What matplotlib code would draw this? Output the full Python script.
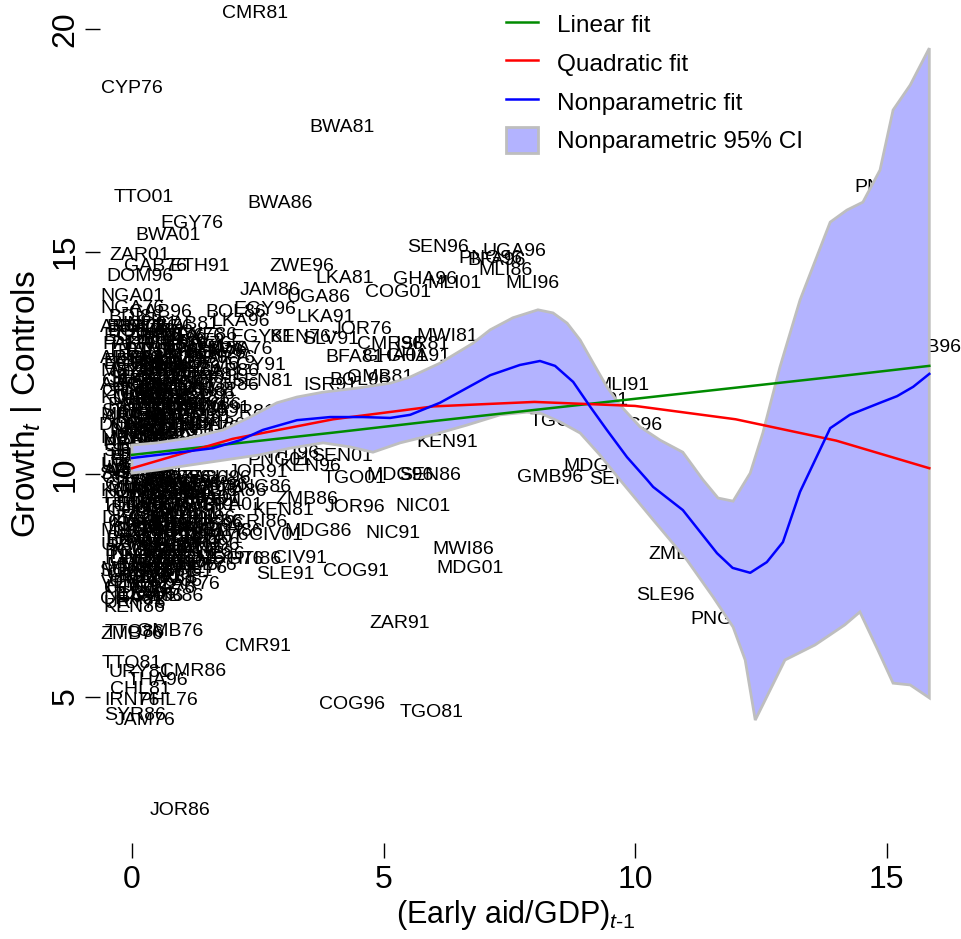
import matplotlib
matplotlib.use('Agg')
import numpy as np
import matplotlib.pyplot as plt
from matplotlib.lines import Line2D
from matplotlib.patches import Patch

plt.rcParams['font.family'] = ['Liberation Sans', 'DejaVu Sans']
plt.rcParams['mathtext.fontset'] = 'custom'
plt.rcParams['mathtext.rm'] = 'Liberation Sans'
plt.rcParams['mathtext.it'] = 'Liberation Sans:italic'

outer_codes = ['CMR81', 'CYP76', 'BWA81', 'TTO01', 'BWA86', 'EGY76', 'BWA01', 'ZAR01', 'GAB76', 'ETH91',
               'DOM96', 'ZWE96', 'SEN96', 'UGA96', 'PNG96', 'BFA96', 'MLI86', 'MLI96', 'GHA96', 'MLI01',
               'COG01', 'LKA81', 'JAM86', 'UGA86', 'NGA01', 'NGA76', 'BDI86', 'GAB96', 'BOL86', 'EGY96',
               'LKA91', 'IND91', 'GAB81', 'LKA96', 'JOR76', 'MWI81', 'ISR81', 'CMR96', 'EGY81', 'KEN76',
               'SLV91', 'ZWE86', 'GHA86', 'BWA76', 'BFA81', 'GHA01', 'GHA91', 'EGY91', 'SEN81', 'ISR91',
               'BOL96', 'GMB81', 'JOR81', 'KEN91', 'SEN01', 'HTI96', 'SEN86', 'TGO01', 'MDG96', 'JOR91',
               'KEN96', 'PNG01', 'JOR96', 'NIC01', 'KEN81', 'ZMB86', 'PNG86', 'CRI86', 'MDG86', 'NIC91',
               'CIV01', 'MWI86', 'MDG01', 'CIV91', 'SLE91', 'COG91', 'HTI86', 'ZAR91', 'GMB76', 'ZMB76',
               'TTO86', 'CMR91', 'TTO81', 'URY81', 'CMR86', 'THA96', 'CHL81', 'IRN76', 'PHL76', 'SYR86',
               'JAM76', 'COG96', 'TGO81', 'JOR86', 'MLI91', 'TGO86', 'GMB91', 'NIC96', 'GMB96', 'MDG91',
               'SEN91', 'ZMB91', 'SLE96', 'PNG91', 'PNG81', 'GNB96', 'MDG76', 'ZAR76', 'VEN96', 'MEX86',
               'URY76']
outer_aid = [2.45, 0.00, 4.17, 0.24, 2.94, 1.19, 0.72, 0.16, 0.46, 1.35,
             0.16, 3.38, 6.08, 7.61, 7.12, 7.25, 7.42, 7.97, 5.83, 6.42,
             5.29, 4.23, 2.74, 3.70, 0.00, 0.00, 0.06, 0.56, 2.07, 2.64,
             3.84, 0.36, 1.11, 2.15, 4.57, 6.26, 5.77, 5.13, 2.58, 3.34,
             3.94, 1.45, 1.65, 2.15, 4.43, 5.23, 5.69, 2.45, 2.58, 3.94,
             4.53, 4.93, 2.25, 6.26, 4.17, 3.20, 5.92, 4.43, 5.33, 2.50,
             3.54, 2.94, 4.43, 5.79, 3.00, 3.48, 2.54, 2.54, 3.70, 5.19,
             2.86, 6.58, 6.72, 3.34, 3.04, 4.45, 2.45, 5.33, 0.76, 0.00,
             0.05, 2.50, 0.00, 0.16, 1.21, 0.52, 0.16, 0.00, 0.72, 0.06,
             0.26, 4.37, 5.96, 0.95, 9.74, 8.55, 9.20, 10.00, 8.31, 9.24,
             9.70, 10.89, 10.60, 11.73, 15.00, 15.85, 1.95, 1.15, 0.00, 0.00,
             0.05]
outer_growth = [20.34, 18.67, 17.78, 16.22, 16.09, 15.64, 15.35, 14.92, 14.67, 14.67,
                14.43, 14.67, 15.10, 14.99, 14.85, 14.80, 14.58, 14.27, 14.36, 14.27,
                14.07, 14.40, 14.13, 13.96, 13.98, 13.73, 13.51, 13.62, 13.64, 13.69,
                13.51, 13.35, 13.35, 13.42, 13.24, 13.10, 12.92, 12.90, 13.06, 13.06,
                13.02, 13.12, 12.79, 12.79, 12.61, 12.63, 12.63, 12.43, 12.07, 12.00,
                12.11, 12.16, 11.39, 10.70, 10.40, 10.45, 9.96, 9.91, 9.96, 10.04,
                10.16, 10.31, 9.24, 9.26, 9.19, 9.42, 9.69, 8.92, 8.70, 8.67,
                8.61, 8.31, 7.87, 8.11, 7.75, 7.80, 8.07, 6.65, 6.47, 6.40,
                6.44, 6.13, 5.75, 5.55, 5.57, 5.35, 5.15, 4.92, 4.92, 4.58,
                4.47, 4.83, 4.65, 2.43, 12.00, 11.19, 11.66, 11.10, 9.93, 10.16,
                9.87, 8.18, 7.26, 6.72, 16.43, 12.85, 8.07, 7.51, 7.55, 7.85,
                7.10]

# the dense, overprinted cluster near zero aid (positions estimated from the ink)
cluster_codes = ['ARG76', 'BRA76', 'CHL76', 'COL76', 'ECU76', 'GTM76', 'HND76', 'MEX76',
                 'PAK76', 'PER76', 'PHL81', 'PRY76', 'SLV76', 'THA76', 'TUN76', 'TUR76', 'URY86', 'VEN76',
                 'ARG81', 'BRA81', 'COL81', 'CRI81', 'DZA76', 'MAR76', 'ECU81', 'GTM81', 'HND81', 'IDN76', 'KOR76',
                 'MEX81', 'MYS76', 'PAK81', 'PER81', 'PRY81', 'GAB86', 'SLV81', 'THA81', 'TUN81', 'TUR81', 'VEN81',
                 'ARG86', 'BRA86', 'CHL86', 'COL86', 'DOM76', 'ECU86', 'GTM86', 'HND86', 'IDN81', 'IND76', 'JAM81',
                 'KOR81', 'MAR81', 'MEX91', 'MYS81', 'NGA81', 'PAK86', 'PER86', 'PHL86', 'PRY86', 'SLV86',
                 'SYR76', 'THA86', 'TUN86', 'TUR86', 'VEN86', 'ARG91', 'BRA91', 'CHL91', 'COL91', 'CRI91',
                 'DOM81', 'DZA81', 'ECU91', 'GTM91', 'HND91', 'IDN86', 'IND81', 'JAM91', 'KOR86', 'MAR86',
                 'MEX96', 'MYS86', 'NGA86', 'PAK91', 'PER91', 'PHL91', 'PRY91', 'SLV96', 'SYR81', 'THA91',
                 'TUN91', 'TUR91', 'URY91', 'VEN91', 'ARG96', 'BRA96',
                 'CHL96', 'COL96', 'CRI96', 'DOM86', 'DZA86', 'ECU96', 'GTM96', 'HND96', 'IDN91', 'IND86', 'JAM96',
                 'KOR91', 'MAR91', 'MYS91', 'NGA91', 'PAK96', 'BFA86', 'PER96', 'PHL96', 'PRY96', 'SYR91', 'THA01',
                 'TUN96', 'TUR96', 'URY96', 'VEN01', 'ARG01', 'BRA01', 'CHL01', 'COL01', 'CRI01', 'DOM91',
                 'DZA91', 'ECU01', 'GTM01', 'HND01', 'IDN96', 'IND96', 'JAM01', 'KOR96', 'MAR96', 'MYS96',
                 'MEX01', 'NGA96', 'PAK01', 'PER01', 'PHL01', 'ETH86', 'PRY01', 'SLV01', 'SYR96', 'TUN01', 'TUR01',
                 'URY01', 'ZWE91', 'DZA96', 'DOM01', 'ETH96', 'BOL81', 'BOL91', 'GAB91', 'GHA76', 'HTI76',
                 'IDN01', 'IND01', 'LKA76', 'MDG81', 'MLI76', 'MWI76', 'NER76', 'NIC81', 'SEN76', 'SLE76',
                 'SOM76', 'TZA76', 'ZMB81', 'ETH81', 'HTI81', 'NER81', 'TZA81', 'HTI91', 'NER86', 'TZA86']
cluster_aid = [0.00, 0.10, 0.30, 0.60, 0.05, 0.35, 0.80, 1.20,
               0.00, 0.20, 0.50, 0.90, 1.40, 0.10, 0.40, 0.70, 1.10, 1.60,
               0.00, 0.25, 0.55, 0.90, 1.30, 1.80, 0.05, 0.30, 0.60, 1.00, 1.50,
               0.00, 0.20, 0.45, 0.80, 1.20, 1.90, 0.10, 0.35, 0.70, 1.05, 1.45,
               0.00, 0.20, 0.50, 0.85, 1.30, 1.90, 0.05, 0.30, 0.60, 1.00, 1.50,
               0.00, 0.25, 0.55, 0.90, 1.30, 0.10, 0.40, 0.75, 1.15, 1.60,
               0.00, 0.20, 0.50, 0.85, 1.30, 0.05, 0.30, 0.60, 0.95, 1.45,
               0.00, 0.25, 0.50, 0.80, 1.20, 1.70, 0.10, 0.35, 0.65, 1.00,
               0.00, 0.20, 0.45, 0.80, 0.05, 0.30, 0.55, 0.00, 0.20, 0.40,
               0.10, 0.30, 0.00, 0.20, 0.05, 0.25,
               0.00, 0.20, 0.55, 0.90, 1.30, 1.75, 0.10, 0.40, 0.80, 1.20, 1.70,
               0.00, 0.30, 0.60, 1.00, 1.50, 2.10, 0.05, 0.35, 0.75, 1.10, 1.55,
               0.00, 0.25, 0.60, 1.00, 1.45, 2.00, 0.10, 0.40, 0.80, 1.20,
               0.00, 0.30, 0.60, 1.00, 1.50, 0.05, 0.35, 0.70, 1.10, 1.60,
               0.00, 0.25, 0.60, 1.00, 1.40, 2.00, 0.10, 0.40, 0.75, 1.15, 1.60,
               0.00, 0.30, 0.70, 1.10, 1.55, 0.05, 0.35, 0.70, 1.05, 1.45,
               0.00, 0.30, 0.60, 0.95, 1.30, 0.10, 0.40, 0.75, 1.10, 1.50,
               0.00, 0.30, 0.65, 1.00, 0.05, 0.35, 0.70, 0.00, 0.05, 0.30]
cluster_growth = [13.30, 13.30, 13.30, 13.30, 13.10, 13.10, 13.10, 13.10,
                  12.90, 12.90, 12.90, 12.90, 12.90, 12.75, 12.75, 12.75, 12.75, 12.75,
                  12.60, 12.60, 12.60, 12.60, 12.60, 12.60, 12.45, 12.45, 12.45, 12.45, 12.45,
                  12.30, 12.30, 12.30, 12.30, 12.30, 12.30, 12.15, 12.15, 12.15, 12.15, 12.15,
                  12.00, 12.00, 12.00, 12.00, 12.00, 12.00, 11.85, 11.85, 11.85, 11.85, 11.85,
                  11.70, 11.70, 11.70, 11.70, 11.70, 11.55, 11.55, 11.55, 11.55, 11.55,
                  11.40, 11.40, 11.40, 11.40, 11.40, 11.25, 11.25, 11.25, 11.25, 11.25,
                  11.10, 11.10, 11.10, 11.10, 11.10, 11.10, 10.95, 10.95, 10.95, 10.95,
                  10.80, 10.80, 10.80, 10.80, 10.65, 10.65, 10.65, 10.50, 10.50, 10.50,
                  10.35, 10.35, 10.20, 10.20, 10.05, 10.05,
                  9.90, 9.90, 9.90, 9.90, 9.90, 9.90, 9.75, 9.75, 9.75, 9.75, 9.75,
                  9.60, 9.60, 9.60, 9.60, 9.60, 9.60, 9.45, 9.45, 9.45, 9.45, 9.45,
                  9.30, 9.30, 9.30, 9.30, 9.30, 9.30, 9.15, 9.15, 9.15, 9.15,
                  9.00, 9.00, 9.00, 9.00, 9.00, 8.85, 8.85, 8.85, 8.85, 8.85,
                  8.70, 8.70, 8.70, 8.70, 8.70, 8.70, 8.55, 8.55, 8.55, 8.55, 8.55,
                  8.40, 8.40, 8.40, 8.40, 8.40, 8.25, 8.25, 8.25, 8.25, 8.25,
                  8.10, 8.10, 8.10, 8.10, 8.10, 7.95, 7.95, 7.95, 7.95, 7.95,
                  7.80, 7.80, 7.80, 7.80, 7.65, 7.65, 7.65, 7.45, 7.30, 7.30]

# a second overprinted layer inside the same blob
extra_codes = ['BGD76', 'BGD81', 'BGD86', 'BGD91', 'BEN76', 'BEN81', 'BEN86', 'BEN91', 'CAF76', 'CAF81',
               'CAF86', 'CAF91', 'TCD76', 'TCD81', 'TCD86', 'TCD91', 'RWA76', 'RWA81', 'RWA86', 'RWA91',
               'MRT76', 'MRT81', 'MRT86', 'MRT91', 'NPL76', 'NPL81', 'NPL86', 'NPL91', 'LSO76', 'LSO81',
               'LSO86', 'LSO91', 'SWZ76', 'SWZ81', 'SWZ86', 'SWZ91', 'MUS76', 'MUS81', 'MUS86', 'MUS91',
               'FJI76', 'FJI81', 'FJI86', 'FJI91', 'GUY76', 'GUY81', 'GUY86', 'GUY91', 'BDI76', 'BDI81',
               'BDI91', 'BFA76', 'BFA91', 'MLI81', 'MWI91', 'NER91', 'SLE86', 'TGO76', 'TZA91', 'ZMB96',
               'ZWE76', 'CIV76', 'CIV81', 'CIV86', 'CMR76', 'COG76', 'COG81', 'COG86', 'GMB86', 'GHA81',
               'KEN86']
extra_aid = [0.15, 0.45, 0.85, 1.25, 1.65, 0.05, 0.40, 0.75, 1.15, 1.60,
             0.00, 0.30, 0.65, 1.05, 1.45, 0.15, 0.45, 0.85, 1.25, 1.70,
             0.00, 0.40, 0.75, 1.10, 1.55, 0.15, 0.45, 0.00, 0.35, 0.15,
             0.00, 0.10, 0.00, 0.40, 0.75, 1.15, 1.55, 0.15, 0.50, 0.90,
             1.30, 1.75, 0.05, 0.35, 0.70, 1.10, 1.55, 0.15, 0.50, 0.90,
             1.30, 1.75, 0.05, 0.40, 0.80, 1.20, 1.65, 0.15, 0.50, 0.85,
             1.25, 0.05, 0.45, 0.85, 0.20, 0.60, 0.10, 0.35, 0.75, 0.00,
             0.05]
extra_growth = [13.20, 13.20, 13.00, 12.85, 12.70, 12.52, 12.52, 12.38, 12.38, 12.22,
                12.08, 12.08, 11.92, 11.92, 11.78, 11.78, 11.62, 11.62, 11.48, 11.48,
                11.32, 11.32, 11.18, 11.18, 11.02, 11.02, 10.88, 10.72, 10.58, 10.42,
                10.28, 10.12, 9.98, 9.98, 9.82, 9.82, 9.68, 9.68, 9.52, 9.52,
                9.38, 9.38, 9.22, 9.22, 9.08, 9.08, 8.92, 8.92, 8.78, 8.78,
                8.62, 8.62, 8.48, 8.48, 8.32, 8.32, 8.18, 8.18, 8.02, 8.02,
                7.88, 7.72, 7.72, 7.58, 7.58, 7.42, 7.42, 7.25, 7.25, 7.18,
                7.00]

# fitted lines
fit_x = [0.0, 2.0, 4.0, 6.0, 8.0, 10.0, 12.0, 14.0, 15.85]
linear_y = [10.43, 10.68, 10.93, 11.19, 11.44, 11.69, 11.94, 12.19, 12.43]
quad_y = [10.13, 10.79, 11.23, 11.52, 11.62, 11.53, 11.23, 10.75, 10.13]

np_x = [0.00, 0.82, 1.61, 2.15, 2.60, 3.28, 3.94, 4.59, 5.13, 5.53, 6.12, 7.12, 7.71, 8.11, 8.41,
        8.77, 9.11, 9.44, 9.84, 10.24, 10.36, 10.95, 11.63, 11.94, 12.29, 12.62, 12.94, 13.28,
        13.88, 14.27, 14.87, 15.21, 15.53, 15.85]
np_y = [10.36, 10.47, 10.58, 10.76, 10.99, 11.21, 11.28, 11.28, 11.26, 11.33, 11.60, 12.22, 12.45,
        12.54, 12.43, 12.07, 11.51, 10.99, 10.38, 9.87, 9.71, 9.19, 8.22, 7.89, 7.78, 8.02, 8.47,
        9.60, 11.03, 11.33, 11.60, 11.75, 11.96, 12.25]

ci_up_x = [0.00, 0.50, 1.15, 1.81, 2.35, 2.88, 3.28, 3.80, 4.47, 5.13, 5.53, 6.12, 6.78, 7.12,
           7.57, 8.07, 8.37, 8.65, 8.91, 9.17, 9.44, 9.70, 10.10, 10.50, 10.95, 11.35, 11.65,
           11.95, 12.29, 12.54, 12.88, 13.28, 13.88, 14.21, 14.53, 14.87, 15.13, 15.47, 15.85]
ci_up_y = [10.65, 10.70, 10.81, 10.99, 11.28, 11.60, 11.73, 11.84, 11.93, 12.04, 12.18, 12.49,
           12.94, 13.24, 13.51, 13.69, 13.62, 13.39, 13.01, 12.49, 11.96, 11.55, 11.06, 10.76,
           10.49, 9.87, 9.46, 9.39, 10.02, 10.92, 12.40, 13.91, 15.66, 15.93, 16.11, 16.83,
           18.18, 18.74, 19.57]
ci_lo_x = [0.00, 0.50, 1.15, 1.81, 2.54, 3.14, 3.80, 4.33, 4.79, 5.33, 5.98, 6.66, 7.32, 7.85,
           8.11, 8.51, 8.91, 9.30, 9.70, 10.36, 11.03, 11.55, 11.95, 12.19, 12.39, 12.98, 13.58,
           14.17, 14.47, 14.83, 15.13, 15.47, 15.85]
ci_lo_y = [10.02, 10.09, 10.20, 10.31, 10.43, 10.58, 10.70, 10.61, 10.49, 10.70, 10.88, 11.10,
           11.33, 11.39, 11.37, 11.17, 10.92, 10.43, 9.87, 8.97, 8.07, 7.24, 6.56, 5.82, 4.47,
           5.82, 6.16, 6.61, 6.90, 6.04, 5.30, 5.26, 4.97]

fig = plt.figure(figsize=(9.61, 9.39), dpi=100)
ax = fig.add_axes([100 / 961, 96 / 939, 861 / 961, 843 / 939])
ax.set_xlim(-0.636, 16.48)
ax.set_ylim(1.708, 20.652)

# country-year labels go underneath everything else
all_codes = outer_codes + cluster_codes + extra_codes
all_aid = outer_aid + cluster_aid + extra_aid
all_growth = outer_growth + cluster_growth + extra_growth
for code, x, y in zip(all_codes, all_aid, all_growth):
    ax.text(x, y, code, fontsize=14, ha='center', va='center', clip_on=True, zorder=1)

band_x = np.concatenate([ci_up_x, ci_lo_x[::-1]])
band_y = np.concatenate([ci_up_y, ci_lo_y[::-1]])
ax.fill(band_x, band_y, facecolor='#B3B3FF', edgecolor='#BEBEBE', linewidth=2, zorder=2)

ax.plot(fit_x, linear_y, color='#008B00', linewidth=1.8, zorder=3)
ax.plot(fit_x, quad_y, color='#FF0000', linewidth=1.8, zorder=3)
ax.plot(np_x, np_y, color='#0000FF', linewidth=1.8, zorder=3)

for s in ax.spines.values():
    s.set_visible(False)
ax.set_xticks([0, 5, 10, 15])
ax.set_yticks([5, 10, 15, 20])
ax.tick_params(axis='both', length=11, width=1, labelsize=23)
ax.tick_params(axis='x', pad=5)
ax.tick_params(axis='y', pad=3, labelrotation=90)
for lab in ax.get_yticklabels():
    lab.set_va('center')

ax.set_xlabel('(Early aid/GDP)$_{\\mathit{t\u20101}}$', fontsize=22, va='center')
ax.xaxis.set_label_coords(0.483, -0.0854)
ax.set_ylabel('Growth$_{\\mathit{t}}$ | Controls', fontsize=24, va='center')
ax.yaxis.set_label_coords(-0.0848, 0.52)

handles = [Line2D([], [], color='#008B00', linewidth=1.8),
           Line2D([], [], color='#FF0000', linewidth=1.8),
           Line2D([], [], color='#0000FF', linewidth=1.8),
           Patch(facecolor='#B3B3FF', edgecolor='#BEBEBE', linewidth=2)]
labels = ['Linear fit', 'Quadratic fit', 'Nonparametric fit', 'Nonparametric 95% CI']
ax.legend(handles, labels, loc='upper left', bbox_to_anchor=(0.4715, 0.987), frameon=False,
          fontsize=17.6, handlelength=1.3, handleheight=1.3, handletextpad=0.8,
          labelspacing=0.49, borderpad=0, borderaxespad=0)

fig.savefig('out.png', dpi=100)
